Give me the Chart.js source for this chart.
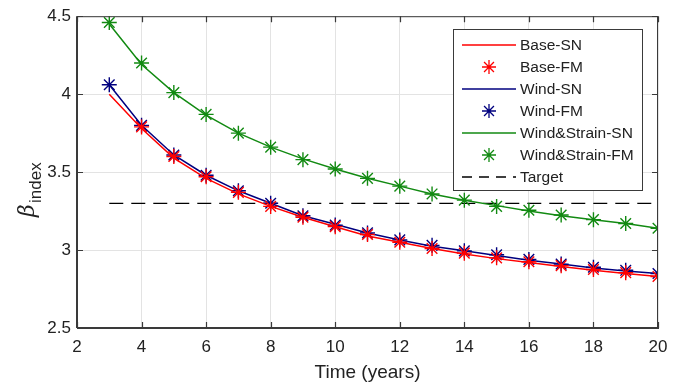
<!DOCTYPE html>
<html>
<head>
<meta charset="utf-8">
<script src="https://cdn.jsdelivr.net/npm/chart.js@4.4.1/dist/chart.umd.min.js"></script>
<style>
    html, body { margin: 0; padding: 0; background: #fff; }
    #wrap { width: 683px; height: 388px; }
</style>
</head>
<body>
<div id="wrap"><canvas id="betaChart" width="683" height="388"></canvas></div>
<script>
// ========================================
// データ
// ========================================
const years = [3, 4, 5, 6, 7, 8, 9, 10, 11, 12, 13, 14, 15, 16, 17, 18, 19, 20];
const baseSN = [4.00, 3.78, 3.59, 3.46, 3.36, 3.28, 3.21, 3.15, 3.09, 3.05, 3.01, 2.975, 2.945, 2.92, 2.895, 2.87, 2.85, 2.83];
const baseFM = [null, 3.79, 3.60, 3.47, 3.37, 3.28, 3.21, 3.15, 3.10, 3.05, 3.01, 2.98, 2.95, 2.925, 2.90, 2.875, 2.855, 2.83];
const windSN = [4.06, 3.80, 3.61, 3.48, 3.38, 3.30, 3.22, 3.165, 3.11, 3.065, 3.025, 2.995, 2.965, 2.935, 2.91, 2.885, 2.865, 2.85];
const windFM = [4.06, 3.80, 3.61, 3.48, 3.38, 3.30, 3.22, 3.16, 3.11, 3.065, 3.03, 2.995, 2.97, 2.94, 2.91, 2.89, 2.87, 2.85];
const strainSN = [4.45, 4.19, 4.01, 3.865, 3.75, 3.66, 3.585, 3.52, 3.46, 3.41, 3.36, 3.32, 3.285, 3.25, 3.22, 3.195, 3.17, 3.14];
const strainFM = [4.46, 4.20, 4.01, 3.87, 3.75, 3.66, 3.58, 3.52, 3.46, 3.41, 3.36, 3.32, 3.28, 3.255, 3.225, 3.195, 3.17, 3.14];
const targetX = [3, 20];
const targetY = [3.3, 3.3];
const xTicks = [2, 4, 6, 8, 10, 12, 14, 16, 18, 20];
const yTicks = [2.5, 3, 3.5, 4, 4.5];

const RED = '#ff0000';
const BLUE = '#00007f';
const GREEN = '#128a12';
const AXIS = '#3a3a3a';
const FONT = '"Liberation Sans", Arial, sans-serif';

function toPoints(xs, ys) {
    return xs.map((x, i) => ({ x: x, y: ys[i] }));
}

// ========================================
// プラグイン: 枠・目盛り・凡例・Y軸ラベル
// ========================================
const matlabAxes = {
    id: 'matlabAxes',
    afterDraw(chart) {
        const ctx = chart.ctx;
        const a = chart.chartArea;
        const xs = chart.scales.x;
        const ys = chart.scales.y;

        ctx.save();
        ctx.strokeStyle = AXIS;
        ctx.lineWidth = 1;
        ctx.strokeRect(a.left + 0.5, a.top + 0.5, a.right - a.left - 1, a.bottom - a.top - 1);
        // 下と左の軸は少し太く
        ctx.lineWidth = 2;
        ctx.beginPath();
        ctx.moveTo(a.left, a.bottom); ctx.lineTo(a.right, a.bottom);
        ctx.moveTo(a.left, a.top); ctx.lineTo(a.left, a.bottom);
        ctx.stroke();

        // 内向きの目盛り
        const len = 6;
        ctx.lineWidth = 1.2;
        ctx.beginPath();
        xTicks.forEach(v => {
            const px = Math.round(xs.getPixelForValue(v)) + 0.5;
            ctx.moveTo(px, a.bottom); ctx.lineTo(px, a.bottom - len);
            ctx.moveTo(px, a.top); ctx.lineTo(px, a.top + len);
        });
        yTicks.forEach(v => {
            const py = Math.round(ys.getPixelForValue(v)) + 0.5;
            ctx.moveTo(a.left, py); ctx.lineTo(a.left + len, py);
            ctx.moveTo(a.right, py); ctx.lineTo(a.right - len, py);
        });
        ctx.stroke();

        // Y軸ラベル β_index
        ctx.translate(34, 185);
        ctx.rotate(-Math.PI / 2);
        ctx.fillStyle = '#222';
        ctx.textBaseline = 'alphabetic';
        ctx.font = 'italic 22px "DejaVu Serif", "Liberation Serif", serif';
        ctx.fillText('β', -32, 0);
        ctx.font = '17px ' + FONT;
        ctx.fillText('index', -18, 7);
        ctx.restore();

        // 凡例
        const lx = 453, ly = 29, lw = 189, lh = 161;
        ctx.save();
        ctx.fillStyle = '#fff';
        ctx.fillRect(lx, ly, lw, lh);
        ctx.strokeStyle = AXIS;
        ctx.lineWidth = 1;
        ctx.strokeRect(lx + 0.5, ly + 0.5, lw, lh);

        const items = [
            { label: 'Base-SN', color: RED, kind: 'line' },
            { label: 'Base-FM', color: RED, kind: 'star' },
            { label: 'Wind-SN', color: BLUE, kind: 'line' },
            { label: 'Wind-FM', color: BLUE, kind: 'star' },
            { label: 'Wind&Strain-SN', color: GREEN, kind: 'line' },
            { label: 'Wind&Strain-FM', color: GREEN, kind: 'star' },
            { label: 'Target', color: '#000', kind: 'dash' }
        ];
        ctx.font = '15.5px ' + FONT;
        ctx.textBaseline = 'middle';
        items.forEach((it, i) => {
            const cy = ly + 16 + i * 22;
            ctx.strokeStyle = it.color;
            ctx.lineWidth = 1.3;
            if (it.kind === 'line' || it.kind === 'dash') {
                ctx.setLineDash(it.kind === 'dash' ? [10, 7] : []);
                ctx.beginPath();
                ctx.moveTo(462, cy); ctx.lineTo(516, cy);
                ctx.stroke();
                ctx.setLineDash([]);
            } else {
                const cx = 489, r = 7;
                ctx.beginPath();
                ctx.moveTo(cx - r, cy); ctx.lineTo(cx + r, cy);
                ctx.moveTo(cx, cy - r); ctx.lineTo(cx, cy + r);
                const d = r * 0.7071;
                ctx.moveTo(cx - d, cy - d); ctx.lineTo(cx + d, cy + d);
                ctx.moveTo(cx - d, cy + d); ctx.lineTo(cx + d, cy - d);
                ctx.stroke();
            }
            ctx.fillStyle = '#222';
            ctx.fillText(it.label, 520, cy + 1);
        });
        ctx.restore();
    }
};

// ========================================
// チャート
// ========================================
const lineStyle = (label, data, color) => ({
    label: label,
    data: data,
    borderColor: color,
    borderWidth: 1.5,
    pointRadius: 0,
    showLine: true,
    spanGaps: true,
    tension: 0
});
const starStyle = (label, data, color) => ({
    label: label,
    data: data,
    borderColor: color,
    backgroundColor: color,
    borderWidth: 1.4,
    pointStyle: 'star',
    pointRadius: 7.5,
    showLine: false
});

new Chart(document.getElementById('betaChart'), {
    type: 'scatter',
    data: {
        datasets: [
            lineStyle('Base-SN', toPoints(years, baseSN), RED),
            starStyle('Base-FM', toPoints(years, baseFM), RED),
            lineStyle('Wind-SN', toPoints(years, windSN), BLUE),
            starStyle('Wind-FM', toPoints(years, windFM), BLUE),
            lineStyle('Wind&Strain-SN', toPoints(years, strainSN), GREEN),
            starStyle('Wind&Strain-FM', toPoints(years, strainFM), GREEN),
            {
                label: 'Target',
                data: toPoints(targetX, targetY),
                borderColor: '#000',
                borderWidth: 1.3,
                borderDash: [14, 8],
                pointRadius: 0,
                showLine: true
            }
        ]
    },
    options: {
        responsive: false,
        animation: false,
        layout: { padding: { top: 13, right: 25, left: 0, bottom: 0 } },
        plugins: {
            legend: { display: false },
            tooltip: { enabled: false }
        },
        scales: {
            x: {
                type: 'linear',
                min: 2,
                max: 20,
                afterBuildTicks: scale => { scale.ticks = xTicks.map(v => ({ value: v })); },
                afterFit: scale => { scale.height = 60; },
                grid: { color: '#e3e3e3', drawTicks: false },
                border: { color: AXIS },
                ticks: { color: '#222', font: { family: FONT, size: 17 }, padding: 9 },
                title: {
                    display: true,
                    text: 'Time (years)',
                    color: '#222',
                    font: { family: FONT, size: 19 },
                    padding: { top: 0 }
                }
            },
            y: {
                min: 2.5,
                max: 4.5,
                afterBuildTicks: scale => { scale.ticks = yTicks.map(v => ({ value: v })); },
                afterFit: scale => { scale.width = 77; },
                grid: { color: '#e3e3e3', drawTicks: false },
                border: { color: AXIS },
                ticks: {
                    color: '#222',
                    font: { family: FONT, size: 17 },
                    padding: 6,
                    callback: v => String(v)
                }
            }
        }
    },
    plugins: [matlabAxes]
});
</script>
</body>
</html>
